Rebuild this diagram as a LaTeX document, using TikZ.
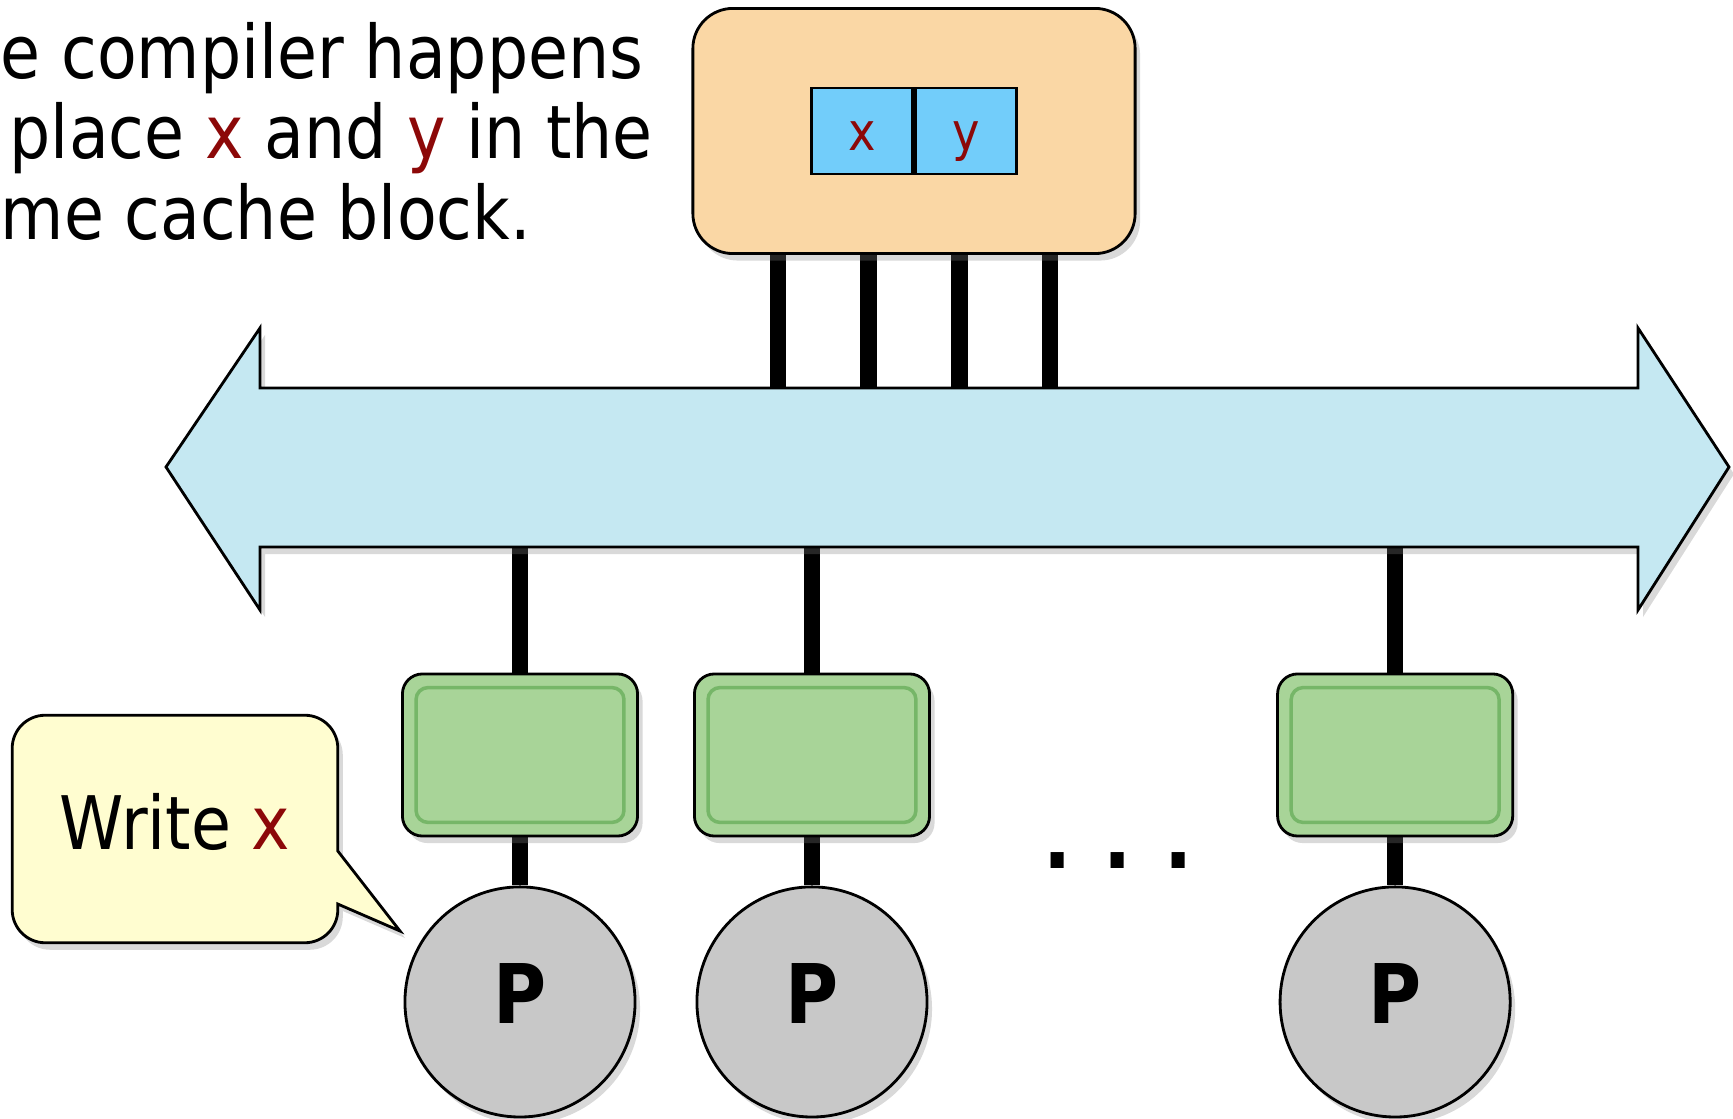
\documentclass[tikz,border=0pt]{standalone}
\usepackage{fontspec}
\setmainfont{DejaVu Sans}[FakeStretch=0.88]
\usetikzlibrary{positioning,backgrounds,shadows}

\definecolor{memfill}{RGB}{250,215,165}
\definecolor{cellfill}{RGB}{114,205,250}
\definecolor{busfill}{RGB}{197,232,242}
\definecolor{cachefill}{RGB}{168,212,152}
\definecolor{cacherim}{RGB}{118,182,104}
\definecolor{procfill}{RGB}{200,200,200}
\definecolor{notefill}{RGB}{255,253,208}
\definecolor{varred}{RGB}{140,8,8}

\newcommand{\vname}[1]{\textcolor{varred}{#1}}

\tikzset{
  shadowed/.style={drop shadow={opacity=0.3, shadow xshift=0.05cm, shadow yshift=-0.07cm}},
  memory/.style={draw, line width=0.8pt, fill=memfill, rounded corners=0.4cm, minimum width=4.42cm, minimum height=2.45cm, shadowed},
  cell/.style={draw, line width=0.8pt, fill=cellfill, minimum width=1.01cm, minimum height=0.86cm, inner sep=0pt, text height=12pt, text depth=1pt, font=\fontsize{15}{18}\selectfont},
  cache/.style={draw, line width=0.8pt, fill=cachefill, rounded corners=0.2cm, minimum width=2.35cm, minimum height=1.62cm, shadowed},
  rim/.style={draw=cacherim, line width=1pt, rounded corners=0.12cm},
  proc/.style={circle, draw, line width=0.8pt, fill=procfill, minimum size=2.3cm, inner sep=0pt, text depth=0.16cm, shadowed, font=\bfseries\fontsize{23.4}{26}\selectfont},
  bus/.style={draw, line width=0.8pt, fill=busfill, line join=miter, shadowed},
  bubble/.style={draw, line width=0.8pt, fill=notefill, shadowed},
  wire/.style={line width=4.6pt}
}

\begin{document}
\begin{tikzpicture}[x=0.01cm, y=-0.01cm]
  \useasboundingbox (0,0) rectangle (1733,1119);

  % remark, cut at the left margin
  \node[anchor=north west, inner sep=0pt, align=left, font=\fontsize{21}{22.8}\selectfont] (remark) at (0,22)
    {e compiler happens\\\hspace*{0.09cm}place \vname{x} and \vname{y} in the\\me cache block.};

  % memory with the block
  \node[memory] (mem) at (914,131) {};
  \node[cell, anchor=east] (xcell) at (mem.center) {\vname{x}};
  \node[cell, right=0pt of xcell] (ycell) {\vname{y}};

  % bus
  \coordinate (busN) at (0,400);
  \coordinate (busS) at (0,535);
  \filldraw[bus] (166,467) -- (260,328) -- (260,388) -- (1638,388) -- (1638,328)
    -- (1729,467) -- (1638,610) -- (1638,547) -- (260,547) -- (260,610) -- cycle;

  % caches
  \node[cache] (c1) at (520,755) {};
  \node[cache, right=0.54cm of c1] (c2) {};
  \node[cache, right=3.45cm of c2] (c3) {};
  \foreach \c in {c1,c2,c3}
    \draw[rim] ([shift={(0.15cm,-0.15cm)}]\c.north west) rectangle ([shift={(-0.15cm,0.15cm)}]\c.south east);

  % processors
  \node[proc, below=0.48cm of c1] (p1) {P};
  \node[proc, below=0.48cm of c2] (p2) {P};
  \node[proc, below=0.48cm of c3] (p3) {P};
  \node[anchor=base, font=\bfseries\fontsize{24}{26}\selectfont] (dots) at (1118,869) {.\hspace{0.32cm}.\hspace{0.32cm}.};

  % note
  \node[minimum width=3.24cm, minimum height=2.26cm, text depth=0.16cm, font=\fontsize{21}{24}\selectfont] (note) at (175,829) {Write \vname{x}};
  \coordinate (tip) at (400,931);

  \begin{scope}[on background layer]
    \filldraw[bubble] (note.north west) [rounded corners=0.33cm] -- (note.north east)
      [sharp corners] -- ([yshift=-0.22cm]note.east) -- (tip) -- ([yshift=-0.75cm]note.east)
      [rounded corners=0.33cm] -- (note.south east) -- (note.south west) -- cycle;
    \foreach \dx in {-1.36,-0.455,0.455,1.36}
      \draw[wire] ([xshift=\dx cm]mem.south) -- ([xshift=\dx cm]mem.south |- busN);
    \foreach \c in {c1,c2,c3}
      \draw[wire] (\c.north) -- (\c.north |- busS);
    \foreach \c/\p in {c1/p1,c2/p2,c3/p3}
      \draw[wire] (\c.south) -- (\p.north);
  \end{scope}
\end{tikzpicture}
\end{document}
